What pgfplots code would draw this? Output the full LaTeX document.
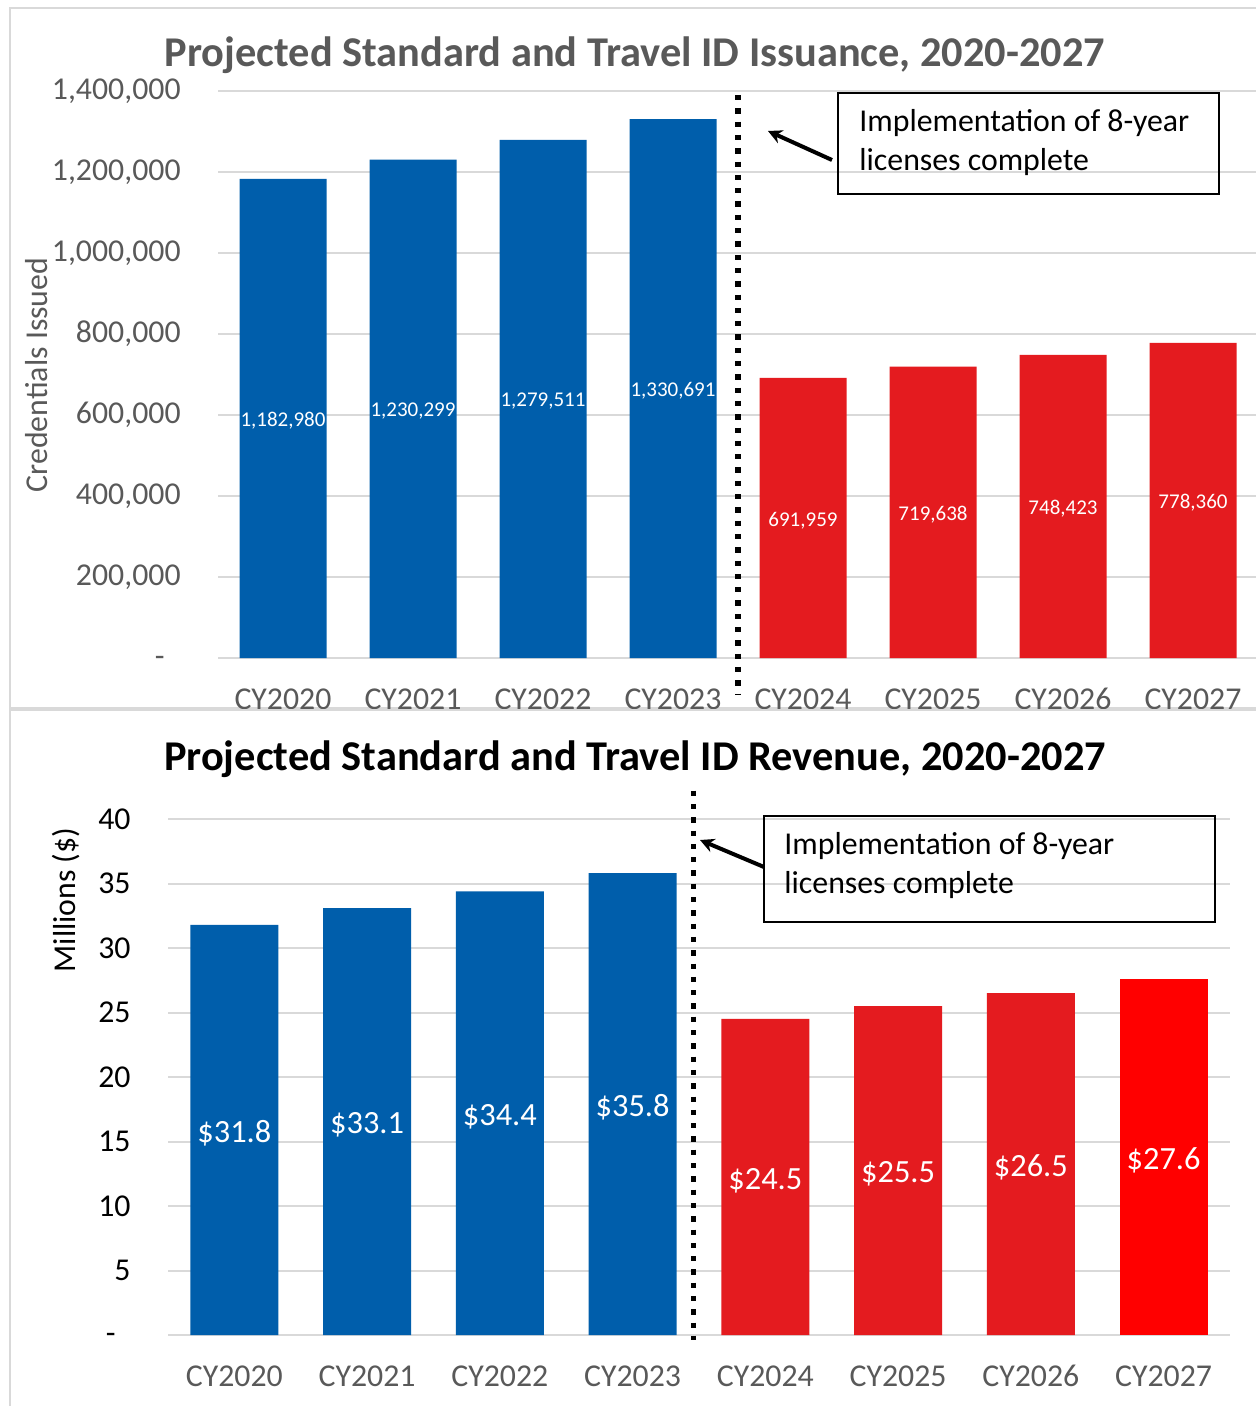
\documentclass[border=0pt]{standalone}
\usepackage{pgfplots}
\pgfplotsset{compat=1.18}
\usepackage{pgfplotstable}
\usetikzlibrary{arrows.meta}
\usepackage{fontspec}
\setmainfont{Carlito}
\definecolor{cblue}{HTML}{005EAB}
\definecolor{cred}{HTML}{E41B1F}
\definecolor{cbright}{HTML}{FF0000}
\definecolor{cgray}{HTML}{595959}
\definecolor{cgrid}{HTML}{D9D9D9}

% Issuance (credentials)
\pgfplotstableread{
x v
0 1182980
1 1230299
2 1279511
3 1330691
}\issBlue
\pgfplotstableread{
x v
4 691959
5 719638
6 748423
7 778360
}\issRed
% Revenue (millions $)
\pgfplotstableread{
x v
0 31.8
1 33.1
2 34.4
3 35.8
}\revBlue
\pgfplotstableread{
x v
4 24.5
5 25.5
6 26.5
}\revRed
\pgfplotstableread{
x v
7 27.6
}\revBright

\newcommand{\fs}{\fontsize{15.9}{19.5}\selectfont}
\newcommand{\dash}[1]{-\kern#1\rule[-0.12em]{0pt}{0.75em}}
\pgfplotsset{
  common/.style={
    scale only axis, clip=false,
    xmin=-0.5, xmax=7.5,
    axis line style={draw=none},
    major tick length=0pt,
    scaled y ticks=false,
    ymajorgrids, grid style={cgrid, line width=1pt},
    xtick={0,...,7},
    xticklabels={CY2020,CY2021,CY2022,CY2023,CY2024,CY2025,CY2026,CY2027},
    tick label style={font=\fs, inner sep=0pt},
    xticklabel style={text=cgray, anchor=north, yshift=-15pt},
  },
}

\begin{document}
\begin{tikzpicture}
\useasboundingbox (0,0) rectangle (628pt,-703pt);
\clip (0,0) rectangle (628pt,-703pt);
\fill[white] (0,0) rectangle (628pt,-703pt);
\draw[cgrid, line width=1pt] (5pt,-4pt) rectangle (640pt,-354pt);

% ---------- Top chart ----------
\begin{axis}[common,
  at={(109pt,-329pt)}, anchor=south west,
  width=520pt, height=283.5pt,
  ymin=0, ymax=1400000,
  ytick={0,200000,400000,600000,800000,1000000,1200000,1400000},
  yticklabels={{\dash{8pt}},{200,000},{400,000},{600,000},{800,000},{1,000,000},{1,200,000},{1,400,000}},
  yticklabel style={text=cgray, anchor=east, xshift=-18.5pt},
]
\addplot[ybar, bar width=43.5pt, bar shift=0pt, fill=cblue, draw=none] table[x=x,y=v] {\issBlue};
\addplot[ybar, bar width=43.5pt, bar shift=0pt, fill=cred, draw=none] table[x=x,y=v] {\issRed};
\pgfplotsset{lbl/.style={draw=none, mark=none, point meta=explicit,
  nodes near coords={\pgfmathprintnumber[fixed,precision=0,1000 sep={,},assume math mode=true]{\pgfplotspointmeta}},
  every node near coord/.style={anchor=center, yshift=-1.2pt, text=white, font=\fontsize{10.5}{12}\selectfont, inner sep=0pt}}}
\addplot[lbl] table[x=x, y expr=\thisrow{v}/2, meta=v] {\issBlue};
\addplot[lbl] table[x=x, y expr=\thisrow{v}/2, meta=v] {\issRed};
\draw[black, line width=2.65pt, dash pattern=on 2.65pt off 4pt] (axis cs:3.5,1390000) -- (axis cs:3.5,-91000);
\end{axis}

\node[font=\bfseries\fontsize{21.2}{24}\selectfont, text=cgray, anchor=base] at (317.5pt,-33.5pt) {Projected Standard and Travel ID Issuance, 2020-2027};
\node[font=\fs, text=cgray, rotate=90] at (18.5pt,-187.5pt) {Credentials Issued};
\draw[black, line width=1pt] (419pt,-46.5pt) rectangle (609.5pt,-97pt);
\node[font=\fs, align=left, anchor=west, inner sep=0pt] at (429.5pt,-71.5pt) {Implementation of 8-year\\licenses complete};
\draw[black, line width=2pt, -{Stealth[length=7pt,width=7pt]}] (416pt,-80pt) -- (384pt,-65.5pt);

% ---------- Bottom chart ----------
\draw[cgrid, line width=1pt, fill=white] (5pt,-355pt) rectangle (640pt,-720pt);
\begin{axis}[common,
  at={(84pt,-667.5pt)}, anchor=south west,
  width=531pt, height=258pt,
  ymin=0, ymax=40,
  ytick={0,5,...,40},
  yticklabels={{\dash{7.5pt}},5,10,15,20,25,30,35,40},
  yticklabel style={text=black, anchor=east, xshift=-18.5pt},
]
\addplot[ybar, bar width=44pt, bar shift=0pt, fill=cblue, draw=none] table[x=x,y=v] {\revBlue};
\addplot[ybar, bar width=44pt, bar shift=0pt, fill=cred, draw=none] table[x=x,y=v] {\revRed};
\addplot[ybar, bar width=44pt, bar shift=0pt, fill=cbright, draw=none] table[x=x,y=v] {\revBright};
\pgfplotsset{lblb/.style={draw=none, mark=none, point meta=explicit,
  nodes near coords={\$\pgfmathprintnumber[fixed,fixed zerofill,precision=1,assume math mode=true]{\pgfplotspointmeta}},
  every node near coord/.style={anchor=center, yshift=-1.8pt, text=white, font=\fontsize{16.2}{19}\selectfont, inner sep=0pt}}}
\addplot[lblb] table[x=x, y expr=\thisrow{v}/2, meta=v] {\revBlue};
\addplot[lblb] table[x=x, y expr=\thisrow{v}/2, meta=v] {\revRed};
\addplot[lblb] table[x=x, y expr=\thisrow{v}/2, meta=v] {\revBright};
\draw[black, line width=2.65pt, dash pattern=on 2.65pt off 4pt] (axis cs:3.46,42.2) -- (axis cs:3.46,-0.4);
\end{axis}

\node[font=\bfseries\fontsize{21.2}{24}\selectfont, text=black, anchor=base] at (317.5pt,-385pt) {Projected Standard and Travel ID Revenue, 2020-2027};
\node[font=\fs, text=black, rotate=90] at (33pt,-450pt) {Millions (\$)};
\draw[black, line width=1pt] (382pt,-408pt) rectangle (607.5pt,-461pt);
\node[font=\fs, align=left, anchor=west, inner sep=0pt] at (392pt,-433pt) {Implementation of 8-year\\licenses complete};
\draw[black, line width=2pt, -{Stealth[length=7pt,width=7pt]}] (382pt,-433.5pt) -- (350pt,-420pt);
\end{tikzpicture}
\end{document}
